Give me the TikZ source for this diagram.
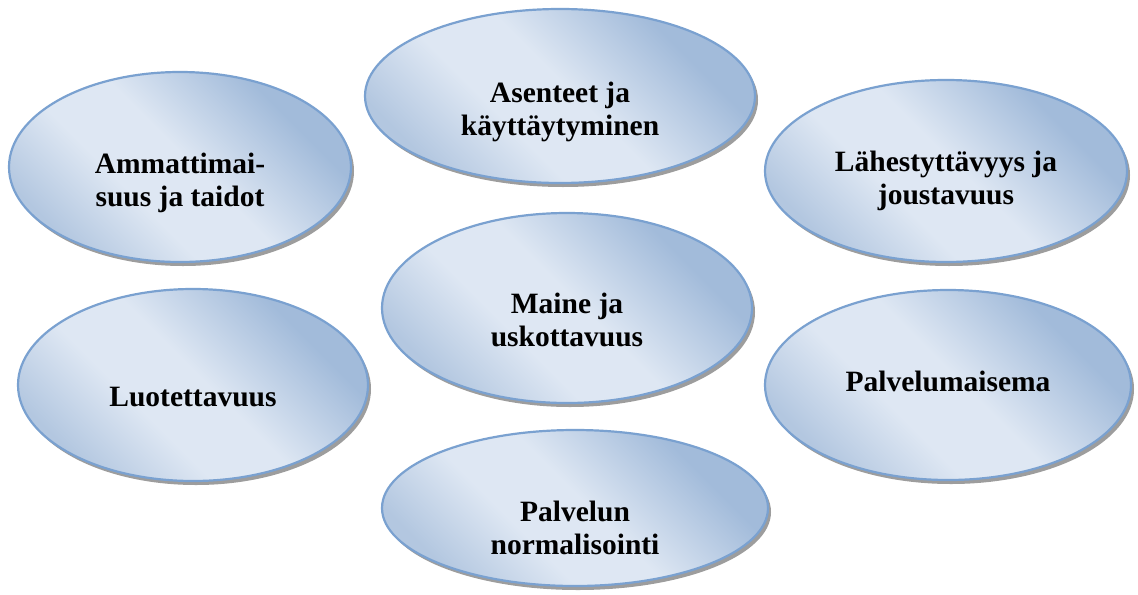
\documentclass[tikz,border=0pt]{standalone}
\usepackage{fontspec}
\setmainfont{Liberation Serif}
\usetikzlibrary{shapes.geometric,shadows}
\definecolor{bubbledark}{HTML}{A2BBDA}
\definecolor{bubblelight}{HTML}{DEE7F3}
\definecolor{bubblelow}{HTML}{B3C7E0}
\definecolor{bubbleline}{HTML}{7AA1D0}
\pgfdeclareverticalshading{bubbleshade}{100bp}{color(0bp)=(bubblelow); color(25bp)=(bubblelow); color(40bp)=(bubblelight); color(52bp)=(bubblelight); color(71bp)=(bubbledark); color(100bp)=(bubbledark)}
\begin{document}
\begin{tikzpicture}[x=0.5pt, y=-0.5pt,
	bubble/.style={ellipse, draw=bubbleline, line width=1.1pt, inner sep=0pt, shading=bubbleshade, shading angle=-45, drop shadow={shadow xshift=1.5pt, shadow yshift=-2pt, fill=black!55, opacity=0.7}},
	btext/.style={align=center, font=\fontsize{14.75}{16.5}\selectfont\bfseries}]
		\useasboundingbox (0,0) rectangle (1138,594);

		\node[bubble, minimum width=171pt, minimum height=95pt] (amm) at (180,167) {};
		\node[bubble, minimum width=195pt, minimum height=87pt] (ase) at (560,96) {};
		\node[bubble, minimum width=181pt, minimum height=91pt] (lah) at (946,171) {};
		\node[bubble, minimum width=185pt, minimum height=95pt] (mai) at (567,308) {};
		\node[bubble, minimum width=175pt, minimum height=96pt] (luo) at (193,385) {};
		\node[bubble, minimum width=183pt, minimum height=95pt] (pal) at (948,385) {};
		\node[bubble, minimum width=193pt, minimum height=78pt] (nor) at (575,508) {};

		\node[btext] (amm-t) at ([yshift=-8pt]amm.center) {Ammattimai-\\suus ja taidot};
		\node[btext] (ase-t) at ([yshift=-8pt]ase.center) {Asenteet ja\\käyttäytyminen};
		\node[btext] (lah-t) at ([yshift=-5pt]lah.center) {Lähestyttävyys ja\\joustavuus};
		\node[btext] (mai-t) at ([yshift=-6pt]mai.center) {Maine ja\\uskottavuus};
		\node[btext] (luo-t) at ([yshift=-6pt]luo.center) {Luotettavuus};
		\node[btext] (pal-t) at ([yshift=2pt]pal.center) {Palvelumaisema};
		\node[btext] (nor-t) at ([yshift=-10pt]nor.center) {Palvelun\\normalisointi};
	\end{tikzpicture}
\end{document}
